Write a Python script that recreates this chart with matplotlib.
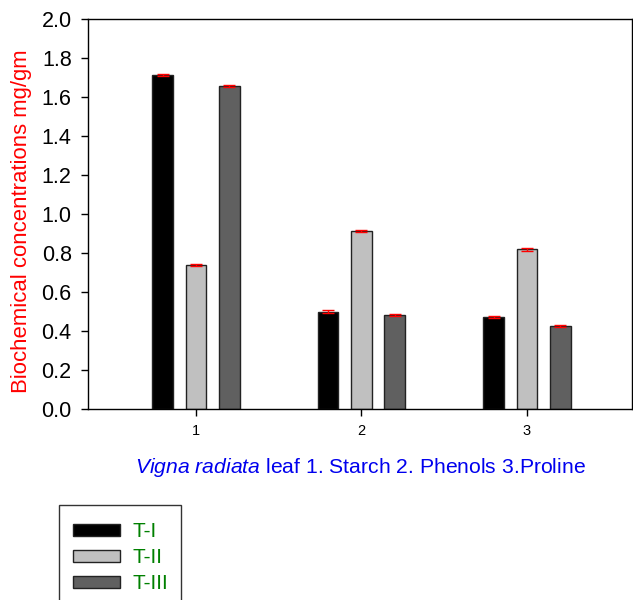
import numpy as np
import matplotlib
matplotlib.use('Agg')
import matplotlib.pyplot as plt
from matplotlib.patches import Rectangle
from matplotlib.container import BarContainer
from matplotlib.legend_handler import HandlerPatch, update_from_first_child

plt.rcParams['font.family'] = ['Liberation Sans', 'DejaVu Sans']
plt.rcParams['mathtext.fontset'] = 'custom'
plt.rcParams['mathtext.rm'] = 'Liberation Sans'
plt.rcParams['mathtext.it'] = 'Liberation Sans:italic'

groups = [1, 2, 3]
series = ['T-I', 'T-II', 'T-III']
t1 = [1.712, 0.499, 0.472]
t2 = [0.738, 0.911, 0.818]
t3 = [1.656, 0.481, 0.424]
err1 = [0.006, 0.006, 0.005]
err2 = [0.005, 0.006, 0.006]
err3 = [0.005, 0.004, 0.004]
colors = ['#000000', '#c0c0c0', '#606060']

fig = plt.figure(figsize=(6.33, 6.0), dpi=100)
ax = fig.add_axes([0.1395, 0.3188, 0.859, 0.6492])

x = np.array(groups, dtype=float)
off = 0.201
w = 0.125
for k, (vals, errs, c, lab) in enumerate(zip([t1, t2, t3], [err1, err2, err3], colors, series)):
    ax.bar(x + (k - 1) * off, vals, w, color=c, edgecolor='#222222', linewidth=1.0,
           yerr=errs, ecolor='red', capsize=4.3, error_kw=dict(elinewidth=1.0, capthick=1.0),
           label=lab)

ax.set_xlim(0.35, 3.635)
ax.set_ylim(0, 2.0)
ax.set_yticks(np.arange(0, 2.01, 0.2))
ax.set_yticklabels(['%.1f' % v for v in np.arange(0, 2.01, 0.2)], fontsize=15.5)
ax.set_xticks(groups)
ax.set_xticklabels([str(g) for g in groups], fontsize=10.5)
ax.tick_params(axis='both', direction='out', length=5, width=1)
ax.tick_params(axis='x', pad=6)
ax.tick_params(axis='y', pad=7)
for s in ax.spines.values():
    s.set_linewidth(1.0)

ax.set_ylabel('Biochemical concentrations mg/gm', color='red', fontsize=15.9)
ax.yaxis.set_label_coords(-0.103, 0.481)
ax.set_xlabel(r'$\it{Vigna\ radiata}$ leaf 1. Starch 2. Phenols 3.Proline',
              color='#0000ee', fontsize=15.2, labelpad=13)


# thin legend swatches inside taller rows
def small_rect(legend, orig_handle, xdescent, ydescent, width, height, fontsize):
    ph = 8.6
    return Rectangle((-xdescent, -ydescent + (height - ph) / 2), width, ph)


leg = fig.legend(loc='upper left', bbox_to_anchor=(59 / 633, 1 - 505 / 600),
                 fontsize=15, frameon=True, fancybox=False, edgecolor='black',
                 handlelength=2.3, handleheight=1.25, borderpad=0.65, labelspacing=0.2,
                 handletextpad=0.56, borderaxespad=0,
                 handler_map={BarContainer: HandlerPatch(patch_func=small_rect,
                                                         update_func=update_from_first_child)})
leg.get_frame().set_linewidth(1.0)
for t in leg.get_texts():
    t.set_color('#008000')

fig.savefig('out.png', dpi=100)
